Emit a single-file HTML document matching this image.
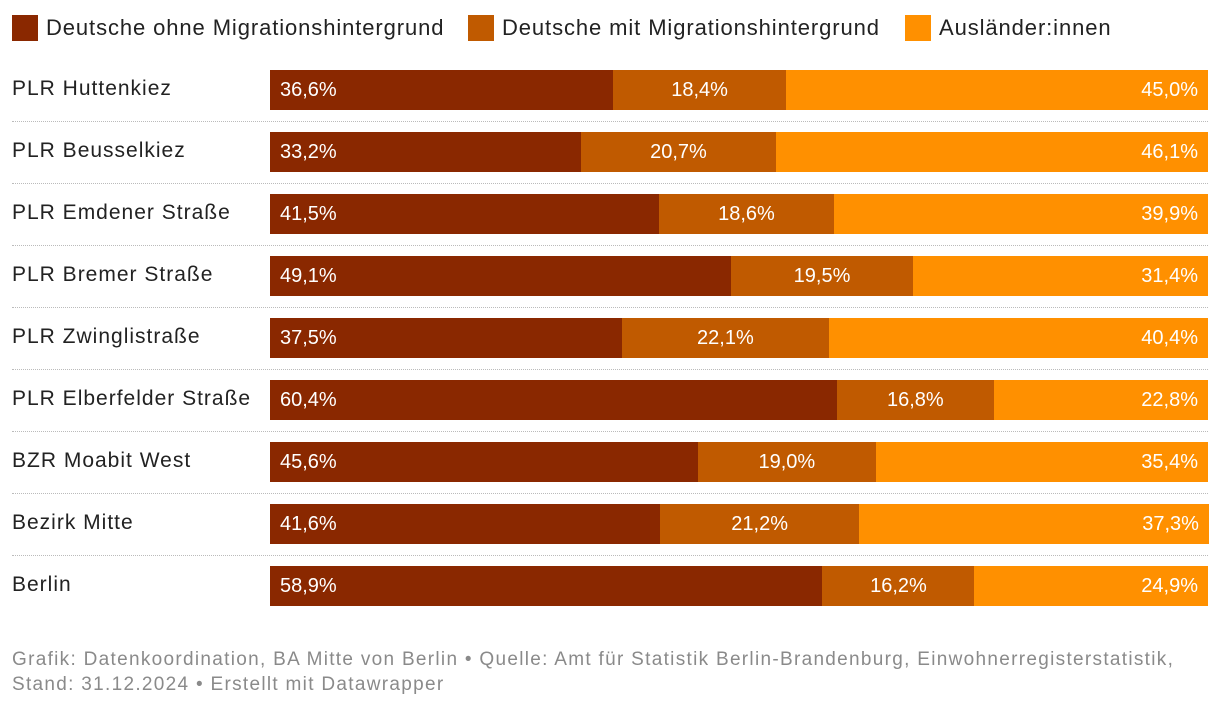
<!DOCTYPE html>
<html><head><meta charset="utf-8">
<style>
body{margin:0;width:1220px;height:708px;background:#fff;font-family:"Liberation Sans",sans-serif;overflow:hidden;position:relative}
.leg{position:absolute;top:15px;font-size:22px;color:#222;display:flex;align-items:center;letter-spacing:0.9px}
.sw{width:26px;height:26px;margin-right:8px;display:inline-block}
.lab{position:absolute;left:12px;font-size:21px;color:#222;letter-spacing:1px}
.sep{position:absolute;left:12px;width:1196px;border-top:1px dotted #bbb}
.seg{position:absolute;height:40px;color:#fff;font-size:20px;line-height:40px;box-sizing:border-box}
.foot{position:absolute;left:12px;top:647px;font-size:19px;color:#8a8a8a;line-height:25px;letter-spacing:1.3px;white-space:nowrap}
</style></head><body>
<div class="leg" style="left:12px"><span class="sw" style="background:#8a2800"></span>Deutsche ohne Migrationshintergrund</div>
<div class="leg" style="left:468px"><span class="sw" style="background:#c05a00"></span>Deutsche mit Migrationshintergrund</div>
<div class="leg" style="left:905px"><span class="sw" style="background:#ff9000"></span>Ausländer:innen</div>
<div id="chart"></div>
<div class="foot">Grafik: Datenkoordination, BA Mitte von Berlin • Quelle: Amt für Statistik Berlin-Brandenburg, Einwohnerregisterstatistik,<br>Stand: 31.12.2024 • Erstellt mit Datawrapper</div>
<script>
const categories=["PLR Huttenkiez","PLR Beusselkiez","PLR Emdener Straße","PLR Bremer Straße","PLR Zwinglistraße","PLR Elberfelder Straße","BZR Moabit West","Bezirk Mitte","Berlin"];
const ohne=[36.6,33.2,41.5,49.1,37.5,60.4,45.6,41.6,58.9];
const mit=[18.4,20.7,18.6,19.5,22.1,16.8,19.0,21.2,16.2];
const ausl=[45.0,46.1,39.9,31.4,40.4,22.8,35.4,37.3,24.9];
const colors=["#8a2800","#c05a00","#ff9000"];
const X0=270,W=938,Y0=70,STEP=62,H=40;
const x=v=>v/100*W;
const fmt=v=>v.toFixed(1).replace('.',',')+'%';
const c=document.getElementById('chart');
categories.forEach((cat,i)=>{
  const y=Y0+i*STEP;
  const l=document.createElement('div');l.className='lab';l.style.top=(y+7)+'px';l.textContent=cat;
  
  
  c.appendChild(l);
  if(i<categories.length-1){const s=document.createElement('div');s.className='sep';s.style.top=(y+51)+'px';
  
  
  c.appendChild(s);}
  const vals=[ohne[i],mit[i],ausl[i]];let acc=0;
  vals.forEach((v,k)=>{
    const d=document.createElement('div');d.className='seg';
    d.style.left=(X0+x(acc))+'px';d.style.width=x(v)+'px';d.style.top=y+'px';d.style.background=colors[k];
    d.style.textAlign=k==0?'left':k==1?'center':'right';
    d.style.padding=k==0?'0 0 0 10px':k==2?'0 10px 0 0':'0';
    d.textContent=fmt(v);
    
    
    c.appendChild(d);acc+=v;
  });
});
</script>
</body></html>
